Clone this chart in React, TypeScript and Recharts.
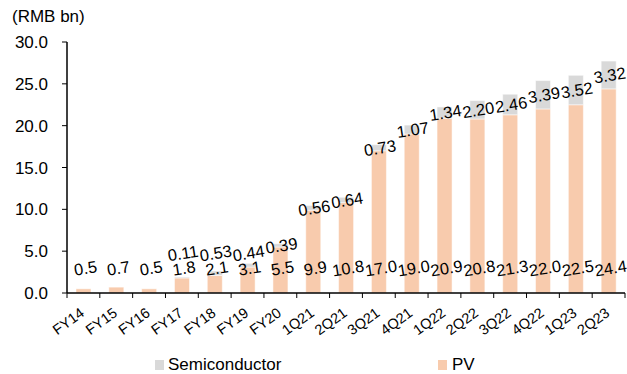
import { Bar, BarChart, LabelList, XAxis, YAxis } from 'recharts'

const periods = ['FY14', 'FY15', 'FY16', 'FY17', 'FY18', 'FY19', 'FY20', '1Q21', '2Q21', '3Q21', '4Q21', '1Q22', '2Q22', '3Q22', '4Q22', '1Q23', '2Q23']
const pv = [0.5, 0.7, 0.5, 1.8, 2.1, 3.1, 5.5, 9.9, 10.8, 17.0, 19.0, 20.9, 20.8, 21.3, 22.0, 22.5, 24.4]
const semiconductor = [null, null, null, 0.11, 0.53, 0.44, 0.39, 0.56, 0.64, 0.73, 1.07, 1.34, 2.2, 2.46, 3.39, 3.52, 3.32]
const yTicks = [0, 5, 10, 15, 20, 25, 30]

const data = periods.map((period, i) => ({ period, pv: pv[i], semi: semiconductor[i] }))

const FONT = '"Liberation Sans", Arial, sans-serif'
const PV_COLOR = '#F8CBAD'
const SEMI_COLOR = '#D9D9D9'

// category ticks sit on the band boundaries, labels are slanted under the bar
function PeriodTick(props: any) {
  const { x, y, payload, index, width } = props
  const band = (width || 558) / periods.length
  const left = x - band / 2
  const tx = x + 2
  const ty = y + 22
  return (
    <g>
      <line x1={left} x2={left} y1={y} y2={y + 5} stroke="#000" />
      {index === periods.length - 1 && <line x1={x + band / 2} x2={x + band / 2} y1={y} y2={y + 5} stroke="#000" />}
      <text x={tx} y={ty} textAnchor="end" fontSize={14.5} fontFamily={FONT} fill="#000" transform={`rotate(-36 ${tx} ${ty})`}>
        {payload.value}
      </text>
    </g>
  )
}

function tiltedText(cx: number, cy: number, value: string) {
  return (
    <text x={cx} y={cy} textAnchor="middle" dominantBaseline="central" fontSize={16.5} fontFamily={FONT} fill="#000" transform={`rotate(-9 ${cx} ${cy})`}>
      {value}
    </text>
  )
}

// PV values sit at a fixed height just above the axis
function PvLabel(props: any) {
  const { x, y, width, height, value } = props
  if (value == null) return null
  return tiltedText(x + width / 2 + 2, y + height - 25, Number(value).toFixed(1))
}

// semiconductor values are centred in their segment, lifted clear of the PV labels
function SemiLabel(props: any) {
  const { x, y, width, height, value } = props
  if (value == null) return null
  const cy = Math.min(y + height / 2, 253)
  return tiltedText(x + width / 2 + 1, cy, Number(value).toFixed(2))
}

const legendItem = { position: 'absolute', top: 357, display: 'flex', alignItems: 'center', fontSize: 17, lineHeight: '15px', color: '#000' } as const

export default function App() {
  return (
    <div style={{ position: 'absolute', left: 0, top: 0, width: 627, height: 374, background: '#fff', fontFamily: FONT }}>
      <div style={{ position: 'absolute', left: 12, top: 7, fontSize: 17, color: '#000' }}>(RMB bn)</div>
      <BarChart width={627} height={374} data={data} margin={{ top: 42, right: 2, left: 0, bottom: 0 }} barSize={15}>
        <XAxis
          dataKey="period"
          height={81}
          interval={0}
          tickLine={false}
          tickSize={0}
          tickMargin={0}
          axisLine={{ stroke: '#000', strokeWidth: 1.5 }}
          tick={<PeriodTick />}
        />
        <YAxis
          width={67}
          domain={[0, 30]}
          ticks={yTicks}
          tickFormatter={(v) => Number(v).toFixed(1)}
          tickSize={5}
          tickMargin={14}
          axisLine={{ stroke: '#000', strokeWidth: 1.5 }}
          tickLine={{ stroke: '#000' }}
          tick={{ fill: '#000', fontSize: 17, fontFamily: FONT }}
        />
        <Bar dataKey="pv" stackId="a" fill={PV_COLOR} stroke="#fff" strokeWidth={0.5} isAnimationActive={false}>
          <LabelList dataKey="pv" content={<PvLabel />} />
        </Bar>
        <Bar dataKey="semi" stackId="a" fill={SEMI_COLOR} stroke="#fff" strokeWidth={0.5} isAnimationActive={false}>
          <LabelList dataKey="semi" content={<SemiLabel />} />
        </Bar>
      </BarChart>
      <div style={{ ...legendItem, left: 155 }}>
        <span style={{ width: 9, height: 10, background: SEMI_COLOR, marginRight: 4 }} />
        Semiconductor
      </div>
      <div style={{ ...legendItem, left: 438 }}>
        <span style={{ width: 9, height: 10, background: PV_COLOR, marginRight: 5 }} />
        PV
      </div>
    </div>
  )
}
